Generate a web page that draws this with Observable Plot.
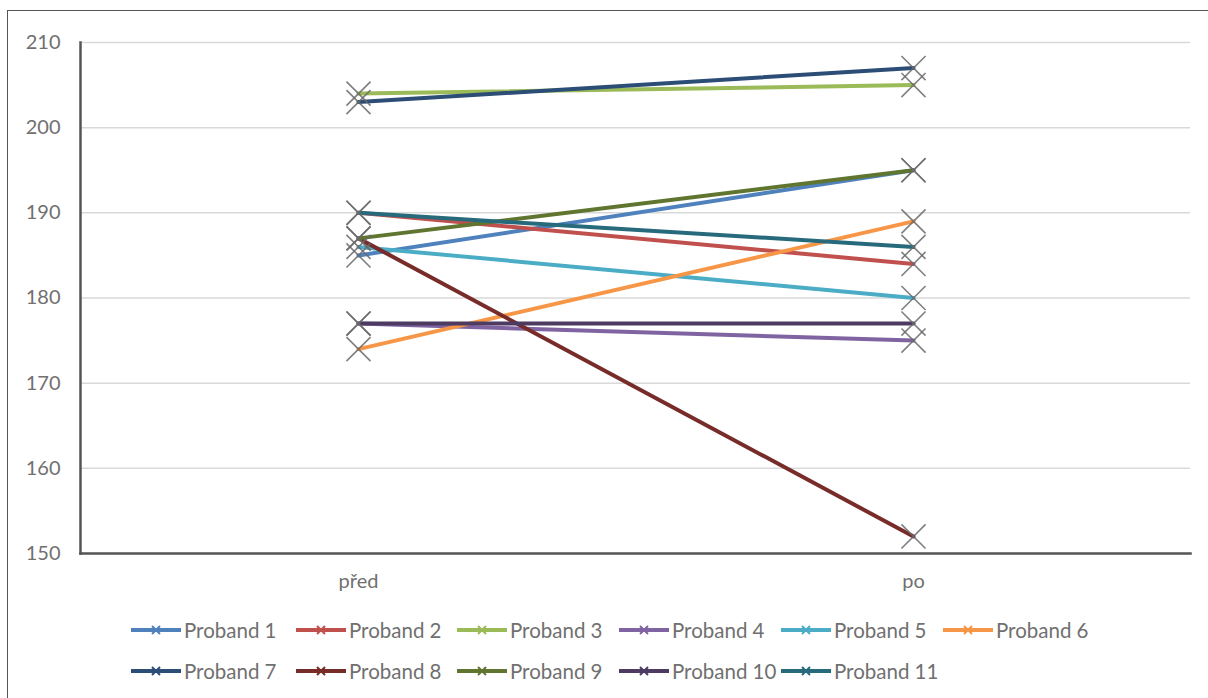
<!DOCTYPE html>
<html><head><meta charset="utf-8">
<script src="https://cdn.jsdelivr.net/npm/d3@7"></script>
<script src="https://cdn.jsdelivr.net/npm/@observablehq/plot@0.6"></script>
<style>
body{margin:0;background:#fff;font-family:Lato,"Open Sans",sans-serif;}
#frame{position:absolute;left:7px;top:10px;width:1210px;height:700px;border:1px solid #555;box-sizing:border-box;}
#chart{position:absolute;left:0;top:0;}
#legend{position:absolute;left:0;top:612px;width:1208px;}
.row{position:relative;height:41px;}
.item{position:absolute;display:flex;align-items:center;font-size:20.5px;color:#707070;white-space:nowrap;}
</style></head>
<body>
<div id="frame"></div>
<div id="chart"></div>
<div id="legend"></div>
<script>
const categories = ["před", "po"];
const series = ["Proband 1","Proband 2","Proband 3","Proband 4","Proband 5","Proband 6","Proband 7","Proband 8","Proband 9","Proband 10","Proband 11"];
const before = [185, 190, 204, 177, 186, 174, 203, 187, 187, 177, 190];
const after  = [195, 184, 205, 175, 180, 189, 207, 152, 195, 177, 186];
const colors = ["#4F81BD","#C0504D","#9BBB59","#8064A2","#4BACC6","#F79646","#2C4D75","#772C2A","#5F7530","#4D3B62","#276A7C"];
const yTicks = [150,160,170,180,190,200,210];

const data = [];
series.forEach((s,i)=>{
  data.push({series:s, cat:categories[0], value:before[i]});
  data.push({series:s, cat:categories[1], value:after[i]});
});

const plot = Plot.plot({
  width: 1208, height: 600,
  marginLeft: 80, marginRight: 18, marginTop: 42, marginBottom: 47,
  style: {fontFamily: "Lato, 'Open Sans', sans-serif", fontSize: "20px", color: "#707070", background: "transparent"},
  x: {domain: categories, type: "point", padding: 0.5, label: null, tickSize: 0, tickPadding: 20},
  y: {domain: [150, 210], ticks: yTicks, label: null, tickSize: 0, tickPadding: 20},
  color: {domain: series, range: colors},
  marks: [
    Plot.gridY(yTicks, {stroke: "#d9d9d9", strokeOpacity: 1, strokeWidth: 1.5}),
    Plot.axisY({ticks: yTicks, tickSize: 0, tickPadding: 20, label: null}),
    Plot.axisX({tickSize: 0, tickPadding: 20, label: null}),
    Plot.frame({anchor: "left", stroke: "#555", strokeWidth: 2.5}),
    Plot.frame({anchor: "bottom", stroke: "#555", strokeWidth: 2.5}),
    Plot.lineY(data, {x: "cat", y: "value", z: "series", stroke: "series", strokeWidth: 4}),
    Plot.dot(data, {x: "cat", y: "value", symbol: "times", r: 11, stroke: "#6a6a6a", strokeWidth: 1.6, strokeOpacity: 0.85}),
  ]
});
document.getElementById("chart").appendChild(plot);

// legend
const legend = document.getElementById("legend");
const rows = [series.slice(0,6), series.slice(6)];
const xpos = [130, 295, 456, 618, 780, 942];
rows.forEach(r=>{
  const row = document.createElement("div"); row.className="row";
  r.forEach((s,j)=>{
    const i = series.indexOf(s);
    const it = document.createElement("div"); it.className="item";
    it.style.left = xpos[j]+"px"; it.style.top="6px";
    it.innerHTML = `<svg width="52" height="14"><line x1="1" y1="7" x2="51" y2="7" stroke="${colors[i]}" stroke-width="4"/><path d="M22,3L30,11M22,11L30,3" stroke="${colors[i]}" stroke-width="2"/></svg><span style="margin-left:2px">${s}</span>`;
    row.appendChild(it);
  });
  legend.appendChild(row);
});
</script>
</body></html>
